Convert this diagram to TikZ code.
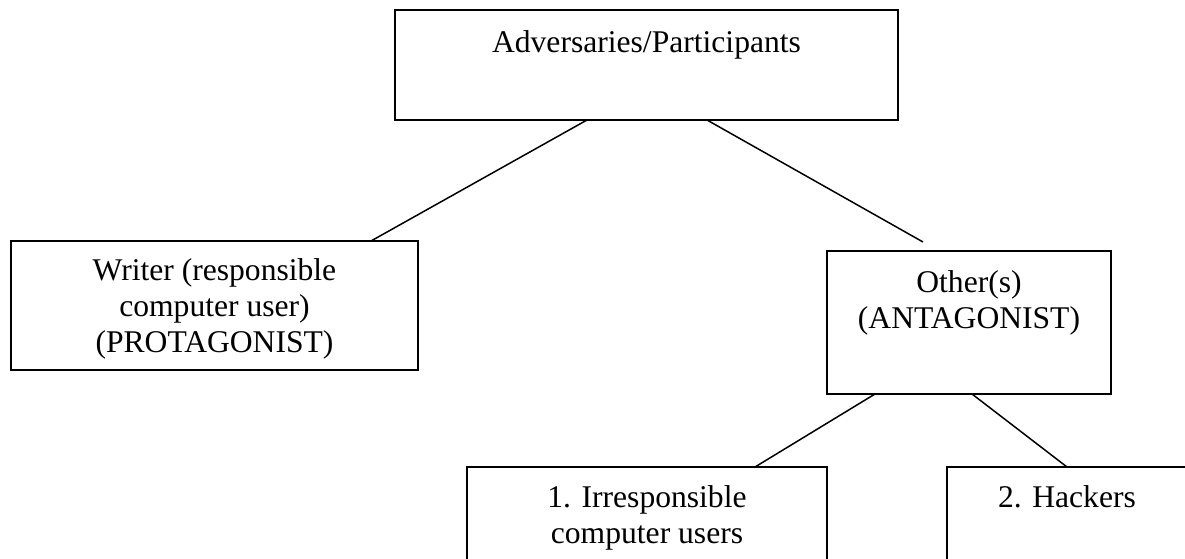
\documentclass[tikz,border=0pt]{standalone}
\usepackage{fontspec}
\setmainfont{Liberation Serif}
\begin{document}
\begin{tikzpicture}[x=1pt, y=-1pt,
  box/.style={draw, rectangle, line width=1.6pt, inner sep=0pt, outer sep=0pt},
  lbl/.style={inner sep=0pt, align=center, anchor=north,
    font=\fontsize{31.6}{36}\selectfont},
  conn/.style={line width=1.5pt}]
  \useasboundingbox (0,0) rectangle (1185,559);
  \clip (0,0) rectangle (1185,559);

  % boxes
  \node[box, minimum width=503, minimum height=110, anchor=north] (top) at (646.5,10) {};
  \node[box, minimum width=407, minimum height=129, anchor=north] (left) at (214.5,241) {};
  \node[box, minimum width=284, minimum height=143, anchor=north] (other) at (969,251) {};
  \node[box, minimum width=360, minimum height=140, anchor=north] (irr) at (647,467) {};
  \node[box, minimum width=240, minimum height=140, anchor=north] (hack) at (1067,467) {};

  % labels
  \node[lbl] (topt) at ([yshift=-20]top.north) {Adversaries/Participants};
  \node[lbl] (leftt) at ([yshift=-17]left.north) {Writer (responsible\\computer user)\\(PROTAGONIST)};
  \node[lbl] (othert) at ([yshift=-19]other.north) {Other(s)\\(ANTAGONIST)};
  \node[lbl] (irrt) at ([yshift=-18]irr.north) {1. Irresponsible\\computer users};
  \node[lbl] (hackt) at ([yshift=-18]hack.north) {2. Hackers};

  % connectors
  \coordinate (endR) at (923,242);
  \draw[conn] ([xshift=-59.5]top.south) -- ([xshift=156.5]left.north);
  \draw[conn] ([xshift=60.5]top.south) -- (endR);
  \draw[conn] ([xshift=-94]other.south) -- ([xshift=108]irr.north);
  \draw[conn] ([xshift=3]other.south) -- (hack.north);
\end{tikzpicture}
\end{document}
